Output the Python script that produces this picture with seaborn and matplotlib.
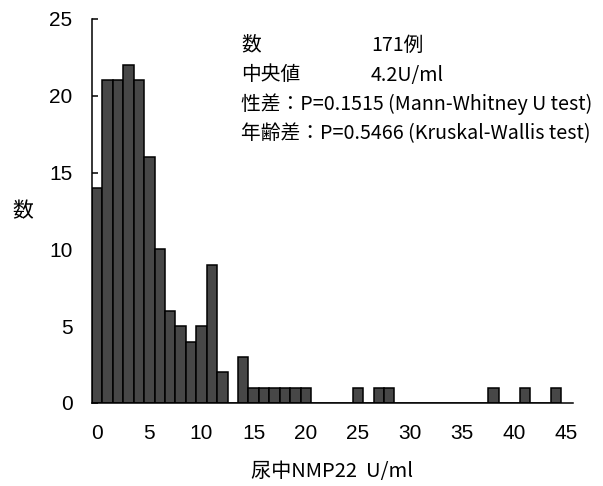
import matplotlib
matplotlib.use("Agg")
import matplotlib.pyplot as plt
import seaborn as sns
import pandas as pd

# Data (integer-centred bins, width 1)
nmp22_bins = [0, 1, 2, 3, 4, 5, 6, 7, 8, 9, 10, 11, 12, 13, 14, 15, 16, 17, 18, 19, 20,
              25, 27, 28, 38, 41, 44]
counts = [14, 21, 21, 22, 21, 16, 10, 6, 5, 4, 5, 9, 2, 0, 3, 1, 1, 1, 1, 1, 1,
          1, 1, 1, 1, 1, 1]
x_ticks = [0, 5, 10, 15, 20, 25, 30, 35, 40, 45]
y_ticks = [0, 5, 10, 15, 20, 25]
x_label = "尿中NMP22  U/ml"
y_label = "数"
info_left = ["数", "中央値"]
info_right = ["171例", "4.2U/ml"]
info_lines = ["性差：P=0.1515 (Mann-Whitney U test)",
              "年齢差：P=0.5466 (Kruskal-Wallis test)"]

df = pd.DataFrame({"nmp22": nmp22_bins, "n": counts})

sns.set_theme(style="white")
plt.rcParams["font.family"] = ["Liberation Sans", "Noto Sans CJK JP", "DejaVu Sans"]
cjk = ["Noto Sans CJK JP", "DejaVu Sans"]

fig = plt.figure(figsize=(6.03, 4.86), dpi=100)
ax = fig.add_axes([0.1526, 0.1708, 0.950 - 0.1526, 0.961 - 0.1708])

sns.histplot(data=df, x="nmp22", weights="n", discrete=True, ax=ax,
             color="#474747", alpha=1.0, edgecolor="black", linewidth=1.1)

ax.set_xlim(-0.5, 45.6)
ax.set_ylim(0, 25)
ax.set_xticks(x_ticks)
ax.set_yticks(y_ticks)
ax.tick_params(axis="x", length=0, pad=15, labelsize=15, colors="black")
ax.tick_params(axis="y", direction="in", length=4, width=1.1, pad=14,
               labelsize=15, colors="black", left=True)
for s in ["top", "right"]:
    ax.spines[s].set_visible(False)
for s in ["left", "bottom"]:
    ax.spines[s].set_color("black")
    ax.spines[s].set_linewidth(1.1)

ax.set_xlabel(x_label, fontsize=14.5, family=cjk, labelpad=13, color="black")
ax.set_ylabel(y_label, fontsize=15, family=cjk, rotation=0, color="black",
              va="center", ha="center")
ax.yaxis.set_label_coords(-0.143, 0.50)

fs = 14.2
ys = [45, 75, 104, 134]
for i in range(2):
    fig.text(241 / 603, 1 - ys[i] / 486, info_left[i], fontsize=fs, family=cjk,
             va="center", ha="left", color="black")
    fig.text(371 / 603, 1 - ys[i] / 486, info_right[i], fontsize=fs, family=cjk,
             va="center", ha="left", color="black")
for j in range(2):
    fig.text(241 / 603, 1 - ys[2 + j] / 486, info_lines[j], fontsize=fs, family=cjk,
             va="center", ha="left", color="black")

fig.savefig("out.png", dpi=100)
